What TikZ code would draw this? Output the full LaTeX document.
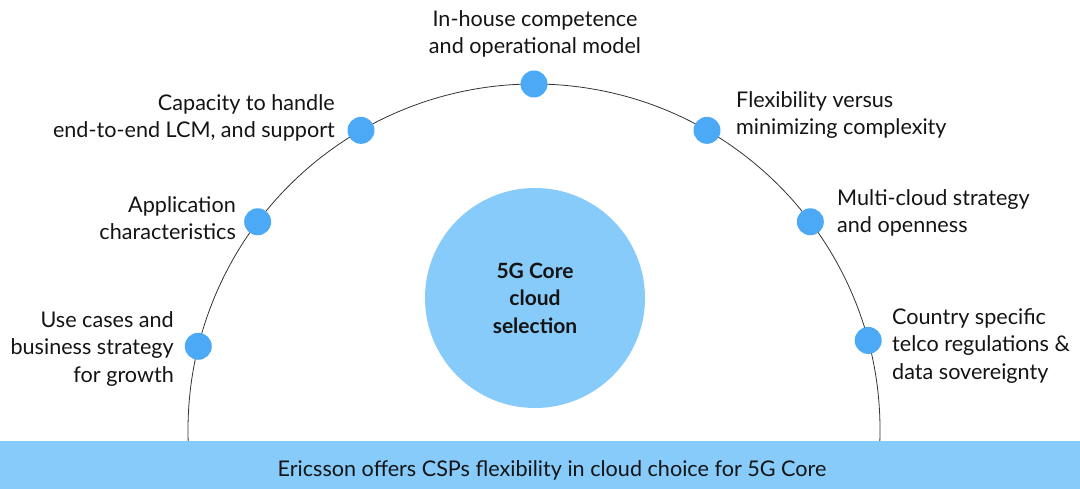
\documentclass[tikz,border=0pt]{standalone}
\usepackage{fontspec}
\setmainfont{Lato}
\usetikzlibrary{calc}
\usetikzlibrary{positioning}
\definecolor{skyfill}{HTML}{87CBFB}
\definecolor{dotblue}{HTML}{4CA9F6}
\definecolor{inktext}{HTML}{141414}
\tikzset{ptdot/.style={circle,fill=dotblue,minimum size=27pt,inner sep=0pt},
  captl/.style={anchor=east,align=right,inner sep=0pt},
  captr/.style={anchor=west,align=left,inner sep=0pt}}

\begin{document}
\begin{tikzpicture}[x=1pt,y=1pt,line join=round,text=inktext,font=\fontsize{21.6}{27.5}\selectfont]
\useasboundingbox (0,0) rectangle (1080,489);
\coordinate (c) at (534,59);
% --- the arc and the points on it
\draw[line width=0.8pt,black!80] ($(c)+(-4:346)$) arc[start angle=-4,end angle=184,radius=346];
\foreach \a/\n in {90/top,120/capa,143/appl,166/usec,60/flex,37/mult,15/ctry}
  \node[ptdot] (\n) at ($(c)+(\a:346)$) {};
% --- centre circle and bottom bar
\node[circle,fill=skyfill,minimum size=220pt,inner sep=0pt,align=center,font=\fontsize{21}{27.5}\selectfont\bfseries] (core) at (535,191) {5G Core\\cloud\\selection};
\fill[skyfill] (0,0) rectangle (1080,48);
\node (bar) at (552,19) {Ericsson offers CSPs flexibility in cloud choice for 5G Core};
% --- labels
\node[align=center,inner sep=0pt] (toptxt) at (535,455) {In-house competence\\and operational model};
\node[captl] (capatxt) at (335,371) {Capacity to handle\\end-to-end LCM, and support};
\node[captl] (appltxt) at (236,271) {Application\\characteristics};
\node[captl] (usectxt) at (174,140) {Use cases and\\business strategy\\for growth};
\node[captr] (flextxt) at (736,374) {Flexibility versus\\minimizing complexity};
\node[captr] (multtxt) at (837,276) {Multi-cloud strategy\\and openness};
\node[captr] (ctrytxt) at (892,143) {Country specific\\telco regulations \&\\data sovereignty};
\end{tikzpicture}
\end{document}
